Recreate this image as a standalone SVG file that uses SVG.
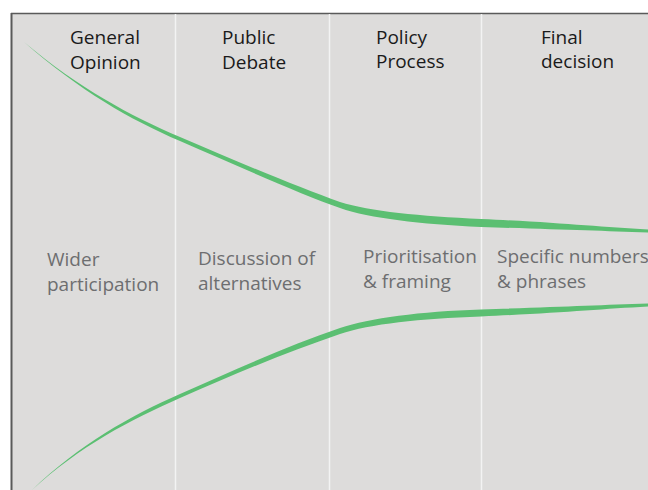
<svg xmlns="http://www.w3.org/2000/svg" width="648" height="490" viewBox="0 0 648 490">
<style>
.hd{font-family:"Open Sans","Liberation Sans",sans-serif;font-size:19px;fill:#1a1a1a}
.lb{font-family:"Open Sans","Liberation Sans",sans-serif;font-size:19px;fill:#6d6e70}
.div{stroke:#f3f3f3;stroke-width:1.5}
.band{fill:#5bbf72}
</style>
<rect x="0" y="0" width="648" height="490" fill="#ffffff"/>
<g id="panel">
<rect x="11" y="13" width="640" height="480" fill="#dddcdb"/>
<line x1="11" y1="13.5" x2="648" y2="13.5" stroke="#5a5a5a" stroke-width="1.4"/>
<line x1="11.5" y1="13" x2="11.5" y2="490" stroke="#5a5a5a" stroke-width="2"/>
<line class="div" x1="175.5" y1="14" x2="175.5" y2="490"/>
<line class="div" x1="329.5" y1="14" x2="329.5" y2="490"/>
<line class="div" x1="481.5" y1="14" x2="481.5" y2="490"/>
</g>
<g id="connectors">
<path class="band" d="M24,42 C80,89 130,115.5 180,137 C240,162.8 300,188 340,202 C370,211.5 420,216 481,219 C560,222.5 600,227 648,229.5 L648,232.5 C600,231 560,229.5 481,227 C420,224 370,218.5 340,208 C300,194 240,167 180,141 C130,119.5 80,91 24,42 Z"/>
<path class="band" d="M32,490 C80,444 130,416 180,394 C240,367.6 290,345 340,328 C370,318 420,311.5 481,309.5 C560,307 600,305 648,303.5 L648,306.5 C600,309 560,313 481,316.5 C420,318.5 370,324 340,334 C290,351 240,371.6 180,398 C130,420 80,446 32,490 Z"/>
</g>
<g id="general-opinion">
<text class="hd" x="70" y="44">General</text>
<text class="hd" x="70" y="69">Opinion</text>
<text class="lb" x="47" y="266">Wider</text>
<text class="lb" x="47" y="291">participation</text>
</g>
<g id="public-debate">
<text class="hd" x="222" y="44">Public</text>
<text class="hd" x="222" y="69">Debate</text>
<text class="lb" x="198" y="265">Discussion of</text>
<text class="lb" x="198" y="290">alternatives</text>
</g>
<g id="policy-process">
<text class="hd" x="376" y="44">Policy</text>
<text class="hd" x="376" y="68">Process</text>
<text class="lb" x="363" y="263">Prioritisation</text>
<text class="lb" x="363" y="288">&amp; framing</text>
</g>
<g id="final-decision">
<text class="hd" x="541" y="44">Final</text>
<text class="hd" x="541" y="68">decision</text>
<text class="lb" x="497" y="263">Specific numbers</text>
<text class="lb" x="497" y="288">&amp; phrases</text>
</g>
</svg>
